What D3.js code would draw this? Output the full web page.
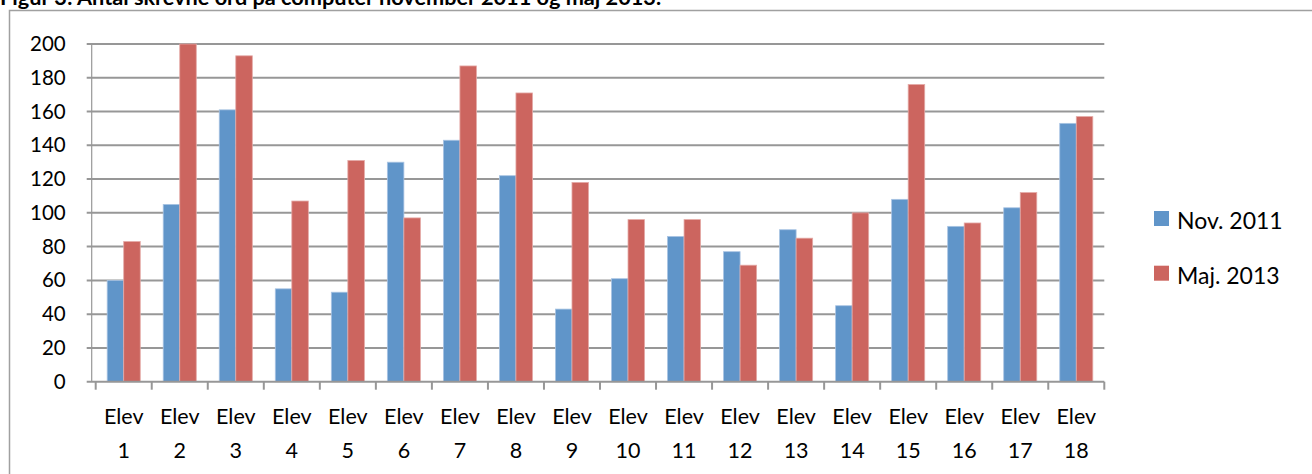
<!DOCTYPE html>
<html>
<head>
<meta charset="utf-8">
<script src="https://cdn.jsdelivr.net/npm/d3@7"></script>
<style>
  body { margin: 0; background: #fff; }
  svg text { font-family: Lato, "Open Sans", sans-serif; fill: #000; }
</style>
</head>
<body>
<svg id="chart" width="1312" height="474"></svg>
<script>
// data
let students = ["1", "2", "3", "4", "5", "6", "7", "8", "9", "10", "11", "12", "13", "14", "15", "16", "17", "18"];
let nov2011 = [60, 105, 161, 55, 53, 130, 143, 122, 43, 61, 86, 77, 90, 45, 108, 92, 103, 153];
let maj2013 = [83, 200, 193, 107, 131, 97, 187, 171, 118, 96, 96, 69, 85, 100, 176, 94, 112, 157];
let seriesNames = ["Nov. 2011", "Maj. 2013"];
let yTicks = [0, 20, 40, 60, 80, 100, 120, 140, 160, 180, 200];

let colors = ["#6095c9", "#cc655f"];

let leftMargin = 95.7,
  topMargin = 44,
  plotWidth = 1104.3 - 95.7,
  plotHeight = 381.7 - 44;

let svg = d3.select("#chart");

// outer frame
svg
  .append("rect")
  .attr("x", 9.5)
  .attr("y", 10.5)
  .attr("width", 1320)
  .attr("height", 480)
  .attr("fill", "none")
  .attr("stroke", "#a0a0a0")
  .attr("stroke-width", 1.5);

// title, cut off at the top like in the source
svg
  .append("text")
  .attr("x", 0)
  .attr("y", 5)
  .text("Figur 3: Antal skrevne ord på computer november 2011 og maj 2013.")
  .style("font-size", "21.7px")
  .style("font-weight", "bold");

let data = students.map((s, i) => ({ name: s, values: [nov2011[i], maj2013[i]] }));

let xScale = d3.scaleBand().domain(students).range([0, plotWidth]).padding(0);
let xInner = d3
  .scaleBand()
  .domain([0, 1])
  .range([xScale.bandwidth() * 0.205, xScale.bandwidth() * 0.795])
  .padding(0);
let yScale = d3.scaleLinear().domain([0, 200]).range([plotHeight, 0]);

let g = svg.append("g").attr("transform", `translate(${leftMargin},${topMargin})`);

// gridlines
g.selectAll(".grid")
  .data(yTicks.filter((d) => d > 0))
  .enter()
  .append("line")
  .attr("class", "grid")
  .attr("x1", -9)
  .attr("x2", plotWidth)
  .attr("y1", (d) => yScale(d))
  .attr("y2", (d) => yScale(d))
  .attr("stroke", "#979797")
  .attr("stroke-width", 2);

// y axis line
g.append("line")
  .attr("x1", -4)
  .attr("x2", -4)
  .attr("y1", 0)
  .attr("y2", plotHeight)
  .attr("stroke", "#979797")
  .attr("stroke-width", 1.2);

// y labels
let yAxis = d3.axisLeft(yScale).tickValues(yTicks).tickSize(0).tickPadding(30);
g.append("g")
  .attr("class", "yaxis")
  .call(yAxis)
  .call((a) => a.select(".domain").remove())
  .selectAll("text")
  .style("font-size", "20.5px");

// bars
let groups = g
  .selectAll(".group")
  .data(data)
  .enter()
  .append("g")
  .attr("class", "group")
  .attr("transform", (d) => `translate(${xScale(d.name)},0)`);

groups
  .selectAll("rect")
  .data((d) => d.values)
  .enter()
  .append("rect")
  .attr("x", (d, i) => xInner(i))
  .attr("width", xInner.bandwidth())
  .attr("y", (d) => yScale(d))
  .attr("height", (d) => plotHeight - yScale(d))
  .attr("fill", (d, i) => colors[i])
  .attr("stroke", (d, i) => (i == 0 ? "#a9c4e3" : "#e4a9a6"))
  .attr("stroke-width", 0.8);

// x axis line and ticks
g.append("line")
  .attr("x1", -9)
  .attr("x2", plotWidth)
  .attr("y1", plotHeight)
  .attr("y2", plotHeight)
  .attr("stroke", "#979797")
  .attr("stroke-width", 2);

g.selectAll(".xtick")
  .data(d3.range(students.length + 1))
  .enter()
  .append("line")
  .attr("class", "xtick")
  .attr("x1", (d) => d * xScale.step())
  .attr("x2", (d) => d * xScale.step())
  .attr("y1", plotHeight)
  .attr("y2", plotHeight + 8)
  .attr("stroke", "#979797")
  .attr("stroke-width", 2);

// x labels, two lines
let xl = g
  .selectAll(".xlabel")
  .data(students)
  .enter()
  .append("text")
  .attr("class", "xlabel")
  .attr("text-anchor", "middle")
  .style("font-size", "21.5px")
  .attr("transform", (d) => `translate(${xScale(d) + xScale.bandwidth() / 2},0)`);
xl.append("tspan").attr("x", 0).attr("y", plotHeight + 42.6).text("Elev");
xl.append("tspan").attr("x", 0).attr("y", plotHeight + 76.3).text((d) => d);

// legend
let legend = svg
  .selectAll(".legend")
  .data(seriesNames)
  .enter()
  .append("g")
  .attr("class", "legend")
  .attr("transform", (d, i) => `translate(1154,${211 + i * 54.7})`);
legend
  .append("rect")
  .attr("width", 15)
  .attr("height", 15)
  .attr("fill", (d, i) => colors[i]);
legend
  .append("text")
  .attr("x", 23)
  .attr("y", 17.8)
  .style("font-size", "23px")
  .text((d) => d);
</script>
</body>
</html>
